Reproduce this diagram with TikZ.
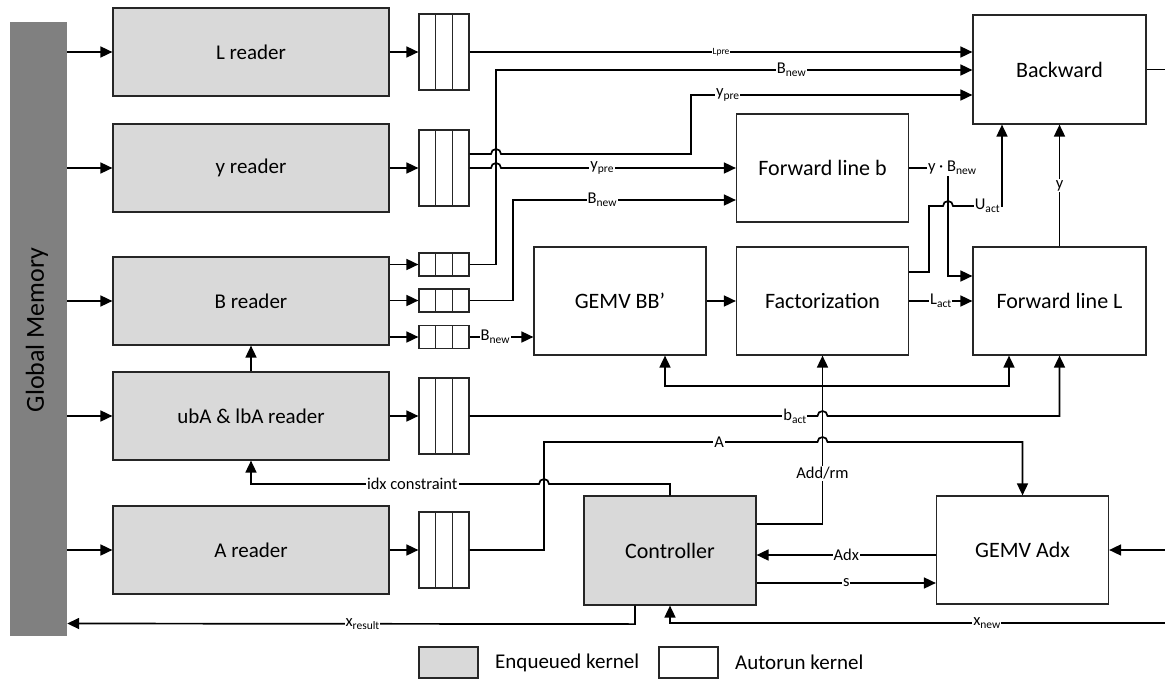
\documentclass[tikz,border=0pt]{standalone}
\usepackage{fontspec}
\setmainfont{Carlito}
\usetikzlibrary{arrows.meta,calc}
\definecolor{enq}{HTML}{D9D9D9}
\definecolor{memgray}{HTML}{808080}
\newcommand{\lsub}[1]{\raisebox{-0.35ex}{\fontsize{11.5}{12}\selectfont #1}}
\begin{document}
\begin{tikzpicture}[x=1pt,y=-1pt,
  kern/.style={draw=black!85, line width=1.2pt, inner sep=0pt, minimum width=172pt, minimum height=108pt, font=\fontsize{22}{26}\selectfont},
  enqk/.style={kern, fill=enq},
  autok/.style={kern, fill=white},
  rd/.style={enqk, minimum width=276pt, minimum height=88pt, font=\fontsize{21}{25}\selectfont},
  queue/.style={draw=black!85, line width=1.2pt, fill=white, inner sep=0pt, minimum width=50pt,
    path picture={\foreach \f in {0.3333,0.6667}{\draw[line width=1.2pt,black!85] ($(path picture bounding box.north west)!\f!(path picture bounding box.north east)$) -- ($(path picture bounding box.south west)!\f!(path picture bounding box.south east)$);}}},
  conn/.style={line width=1.7pt},
  arr/.style={conn, -{Triangle[length=12pt,width=11pt]}},
  lbl/.style={fill=white, inner sep=1pt, font=\fontsize{16.5}{18}\selectfont},
]
\useasboundingbox (0,0) rectangle (1165,680);

% global memory
\node[fill=memgray, inner sep=0pt, minimum width=57pt, minimum height=614pt] (mem) at (38.5,329) {};
\node[rotate=90, font=\fontsize{26}{30}\selectfont] (memtxt) at (37,330) {Global Memory};

% readers
\node[rd] (Lr) at (251,52) {L reader};
\node[rd] (yr) at (251,168) {y reader};
\node[rd] (Br) at (251,301) {B reader};
\node[rd] (ubr) at (251,416) {ubA \& lbA reader};
\node[rd] (Ar) at (251,550) {A reader};

% queues
\node[queue, minimum height=76pt] (qL) at (444,52) {};
\node[queue, minimum height=76pt] (qy) at (444,168) {};
\node[queue, minimum height=23pt] (qB1) at (444,264.5) {};
\node[queue, minimum height=23pt] (qB2) at (444,300.5) {};
\node[queue, minimum height=23pt] (qB3) at (444,337) {};
\node[queue, minimum height=76pt] (qub) at (444,416) {};
\node[queue, minimum height=76pt] (qA) at (444,550) {};

% kernels
\node[autok, minimum width=173pt, minimum height=109pt] (Bw) at (1059.5,69.5) {Backward};
\node[autok] (Fb) at (822.5,168) {Forward line b};
\node[autok] (GB) at (620,301) {GEMV BB’};
\node[autok] (Fa) at (822.5,301) {Factorization};
\node[autok, minimum width=173pt] (FL) at (1059.5,301) {Forward line L};
\node[enqk, minimum height=109pt] (Ct) at (670,550.5) {Controller};
\node[autok] (GA) at (1022.5,550) {GEMV Adx};

% free ends
\coordinate (bout) at (1165,69.5);
\coordinate (gin) at (1165,550);
\coordinate (xin) at (1165,623);

% memory -> readers
\foreach \r in {Lr,yr,Br,ubr,Ar} \draw[arr] (mem.east |- \r.west) -- (\r.west);

% readers -> queues
\draw[arr] (Lr.east) -- (qL.west);
\draw[arr] (yr.east) -- (qy.west);
\draw[arr] (Br.east |- qB1.west) -- (qB1.west);
\draw[arr] (Br.east |- qB2.west) -- (qB2.west);
\draw[arr] (Br.east |- qB3.west) -- (qB3.west);
\draw[arr] (ubr.east) -- (qub.west);
\draw[arr] (Ar.east) -- (qA.west);
\draw[arr] (ubr.north) -- (Br.south);

% to Backward
\draw[arr] (qL.east) -- node[lbl, font=\fontsize{9.5}{10}\selectfont, inner sep=0.5pt]{Lpre} (Bw.west |- qL.east);
\draw[arr] (qB1.east) -| (496,70) -- node[lbl,pos=0.62]{B\lsub{new}} (Bw.west |- 0,70);
\draw[arr] ($(qy.east)+(0,-14)$) -- (491,154) arc[start angle=180,end angle=360,radius=5] -- (691,154) -- (691,95) -- node[lbl,pos=0.13]{y\lsub{pre}} (Bw.west |- 0,95);

% to Forward line b
\draw[arr] (qy.east) -- (491,168) arc[start angle=180,end angle=360,radius=5] -- node[lbl,pos=0.43]{y\lsub{pre}} (Fb.west);
\draw[arr] (qB2.east) -| (513,200) -- node[lbl,pos=0.40]{B\lsub{new}} (Fb.west |- 0,200);

% to GEMV BB'
\draw[arr] (qB3.east) -- node[lbl,pos=0.4]{B\lsub{new}} (GB.west |- qB3.east);
\draw[arr] (GB.east) -- (Fa.west);
\draw[arr] (Fa.east) -- node[lbl]{L\lsub{act}} (FL.west);

% y . B_new
\draw[arr] (Fb.east) -- (948,168) node[lbl, xshift=4pt]{y · B\lsub{new}} -- (948,276) -- (FL.west |- 0,276);

% U_act
\draw[arr] ($(Fa.east)+(0,-29)$) -| (929,206) -- (943,206) arc[start angle=180,end angle=360,radius=5] -- node[lbl,pos=0.7]{U\lsub{act}} (1002,206) -- (Bw.south -| 1002,0);

% y
\draw[arr] (FL.north) -- node[lbl]{y} (Bw.south);

% Add/rm
\coordinate (addrm) at (Fa.south |- 0,386);
\draw[arr] ($(Ct.east)+(0,-26.5)$) -| node[lbl,pos=0.65]{Add/rm} (Fa.south);
\draw[arr] (addrm) -| ($(GB.south)+(45,0)$);
\draw[arr] (addrm) -| ($(FL.south)+(-50.5,0)$);

% b_act
\draw[arr] (qub.east) -- node[lbl,pos=0.935]{b\lsub{act}} (817.5,416) arc[start angle=180,end angle=360,radius=5] -- (FL.south |- 0,416) -- (FL.south);

% A
\draw[arr] (qA.east) -| (544,442) -- node[lbl,pos=0.64]{A} (817.5,442) arc[start angle=180,end angle=360,radius=5] -- (GA.north |- 0,442) -- (GA.north);

% idx constraint
\draw[arr] (Ct.north) -- (Ct.north |- 0,484) -- (549,484) arc[start angle=0,end angle=-180,radius=5] -- node[lbl,pos=0.44]{idx constraint} (ubr.south |- 0,484) -- (ubr.south);

% Adx, s
\draw[arr] ($(GA.west)+(0,5)$) -- node[lbl]{Adx} ($(Ct.east)+(0,4.5)$);
\draw[arr] ($(Ct.east)+(0,32.5)$) -- node[lbl]{s} (GA.west |- 0,583);

% external
\draw[arr] (gin) -- (GA.east);
\draw[conn] (Bw.east) -- (bout);

% x_new, x_result
\draw[arr] (xin) -- node[lbl,pos=0.36]{x\lsub{new}} (Ct.south |- 0,623) -- (Ct.south);
\draw[arr] ($(Ct.south)+(-35,0)$) -- ($(Ct.south)+(-35,18.5)$) -- node[lbl,pos=0.48]{x\lsub{result}} (mem.east |- 0,623.5);

% legend
\node[draw=black!85, fill=enq, line width=1.2pt, minimum width=59pt, minimum height=31pt, inner sep=0pt] (legE) at (448.5,662.5) {};
\node[anchor=west, inner sep=0pt, font=\fontsize{21}{25}\selectfont] (legEt) at (495,662.5) {Enqueued kernel};
\node[draw=black!85, fill=white, line width=1.2pt, minimum width=59pt, minimum height=31pt, inner sep=0pt] (legA) at (688.5,662.5) {};
\node[anchor=west, inner sep=0pt, font=\fontsize{21}{25}\selectfont] (legAt) at (735,662.5) {Autorun kernel};
\end{tikzpicture}
\end{document}
